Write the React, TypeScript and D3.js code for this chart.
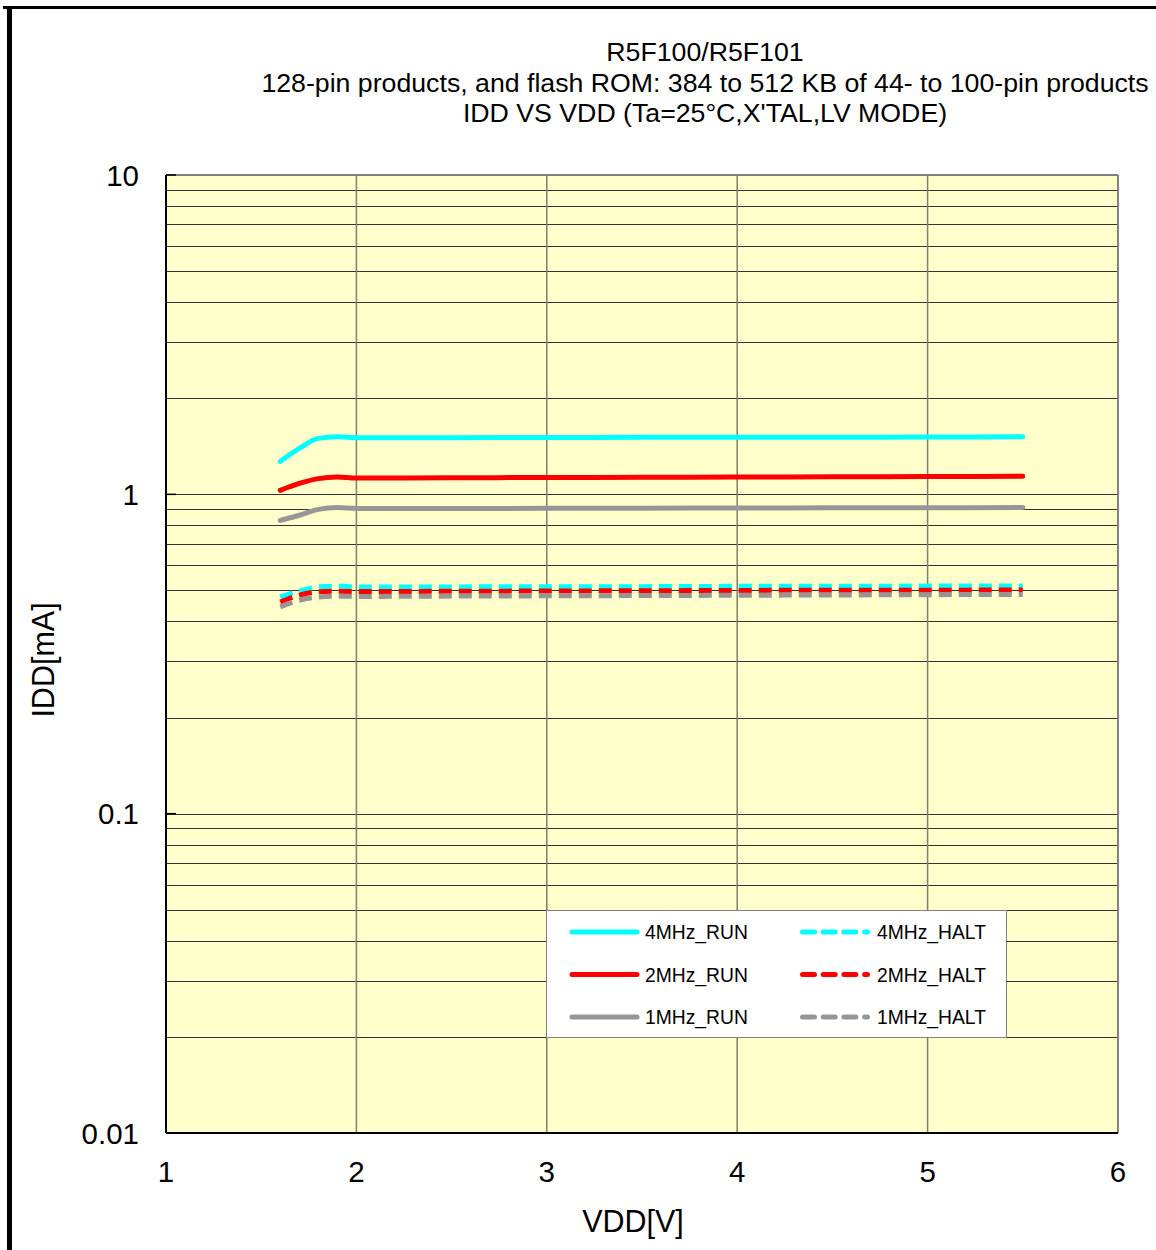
import React from "react";
import * as d3 from "d3";

const vdd = [1.6, 1.7, 1.8, 1.9, 2.0, 2.5, 3.0, 3.5, 4.0, 4.5, 5.0, 5.5];
const run4 = [1.268, 1.393, 1.497, 1.515, 1.505, 1.505, 1.507, 1.508, 1.509, 1.510, 1.511, 1.514];
const run2 = [1.029, 1.082, 1.12, 1.133, 1.124, 1.127, 1.129, 1.131, 1.133, 1.135, 1.137, 1.139];
const run1 = [0.829, 0.86, 0.897, 0.909, 0.903, 0.903, 0.904, 0.905, 0.906, 0.907, 0.908, 0.909];
const halt4 = [0.477, 0.498, 0.513, 0.516, 0.513, 0.513, 0.514, 0.514, 0.515, 0.515, 0.516, 0.516];
const halt2 = [0.46, 0.483, 0.495, 0.497, 0.496, 0.497, 0.498, 0.499, 0.5, 0.501, 0.501, 0.502];
const halt1 = [0.444, 0.466, 0.477, 0.48, 0.479, 0.48, 0.481, 0.482, 0.483, 0.484, 0.485, 0.486];

const xTicks = [1, 2, 3, 4, 5, 6];
const yTicks = [0.01, 0.1, 1, 10];
const yTickLabels = ["0.01", "0.1", "1", "10"];
const titleLines = [
  "R5F100/R5F101",
  "128-pin products, and flash ROM: 384 to 512 KB of 44- to 100-pin products",
  "IDD VS VDD (Ta=25°C,X'TAL,LV MODE)",
];

const series = [
  { name: "4MHz_RUN", values: run4, color: "#00FFFF", dashed: false },
  { name: "2MHz_RUN", values: run2, color: "#FF0000", dashed: false },
  { name: "1MHz_RUN", values: run1, color: "#969696", dashed: false },
  { name: "4MHz_HALT", values: halt4, color: "#00FFFF", dashed: true },
  { name: "2MHz_HALT", values: halt2, color: "#FF0000", dashed: true },
  { name: "1MHz_HALT", values: halt1, color: "#969696", dashed: true },
];

const font = "'Liberation Sans', Arial, sans-serif";

export default function App() {
  const W = 1156, H = 1250;
  const left = 166, right = 1118, top = 175, bottom = 1133;
  const x = d3.scaleLinear().domain([1, 6]).range([left, right]);
  const y = d3.scaleLog().domain([0.01, 10]).range([bottom, top]);

  const minor: number[] = [];
  [0.01, 0.1, 1].forEach((d) => {
    for (let k = 2; k <= 9; k++) minor.push(d * k);
  });
  minor.push(0.1, 1);

  const line = d3
    .line<[number, number]>()
    .x((d) => x(d[0]))
    .y((d) => y(d[1]))
    .curve(d3.curveMonotoneX);

  const legendRows = [0, 1, 2];

  return (
    <svg width={W} height={H} style={{ position: "absolute", left: 0, top: 0 }} fontFamily={font}>
      <rect x={0} y={0} width={W} height={H} fill="#fff" />
      {/* outer frame */}
      <line x1={3} y1={7.5} x2={W} y2={7.5} stroke="#000" strokeWidth={3} />
      <line x1={9.5} y1={6} x2={9.5} y2={H} stroke="#000" strokeWidth={5} />

      {/* title */}
      {titleLines.map((t, i) => (
        <text key={i} x={705} y={61 + i * 30.5} fontSize={26.7} textAnchor="middle" fill="#000">
          {t}
        </text>
      ))}

      {/* plot background */}
      <rect x={left} y={top} width={right - left} height={bottom - top} fill="#FFFFCC" />

      {/* horizontal grid */}
      {minor.map((v, i) => (
        <line key={"h" + i} x1={left} x2={right} y1={Math.round(y(v)) + 0.5} y2={Math.round(y(v)) + 0.5} stroke="#333" strokeWidth={1} />
      ))}
      {/* vertical grid */}
      {xTicks.slice(1, -1).map((v) => (
        <line key={"v" + v} x1={x(v)} x2={x(v)} y1={top} y2={bottom} stroke="#7f7f6a" strokeWidth={1.5} />
      ))}

      {/* border */}
      <line x1={left} x2={right} y1={top} y2={top} stroke="#808080" strokeWidth={2} />
      <line x1={right} x2={right} y1={top} y2={bottom} stroke="#808080" strokeWidth={2} />
      <line x1={left} x2={left} y1={top} y2={bottom} stroke="#000" strokeWidth={2} />
      <line x1={left} x2={right} y1={bottom} y2={bottom} stroke="#000" strokeWidth={2} />
      {yTicks.slice(1).map((v) => (
        <line key={"t" + v} x1={left} x2={left + 10} y1={y(v)} y2={y(v)} stroke="#000" strokeWidth={1.5} />
      ))}

      {/* series */}
      {series.map((s) => (
        <path
          key={s.name}
          d={line(vdd.map((v, i) => [v, s.values[i]] as [number, number])) || ""}
          fill="none"
          stroke={s.color}
          strokeWidth={5}
          strokeLinecap={s.dashed ? "butt" : "round"}
          strokeDasharray={s.dashed ? "13,7" : undefined}
        />
      ))}

      {/* axis labels */}
      {yTicks.map((v, i) => (
        <text key={"yl" + v} x={139} y={y(v) + 10.5} fontSize={29.5} textAnchor="end" fill="#000">
          {yTickLabels[i]}
        </text>
      ))}
      {xTicks.map((v) => (
        <text key={"xl" + v} x={x(v)} y={1182} fontSize={29.5} textAnchor="middle" fill="#000">
          {v}
        </text>
      ))}
      <text x={633} y={1232} fontSize={30.5} textAnchor="middle" fill="#000">VDD[V]</text>
      <text transform={`translate(54,660) rotate(-90)`} fontSize={30.5} textAnchor="middle" fill="#000">IDD[mA]</text>

      {/* legend */}
      <rect x={546.5} y={910.5} width={460} height={127} fill="#fff" stroke="#808080" strokeWidth={1} />
      {series.map((s, i) => {
        const col = s.dashed ? 1 : 0;
        const row = legendRows[i % 3];
        const lx = col === 0 ? 572 : 802.5;
        const ly = 932 + row * 42.5;
        return (
          <g key={"lg" + s.name}>
            <line
              x1={lx}
              x2={lx + 65}
              y1={ly}
              y2={ly}
              stroke={s.color}
              strokeWidth={5}
              strokeLinecap="round"
              strokeDasharray={s.dashed ? "12,8.7" : undefined}
            />
            <text x={col === 0 ? 645 : 877} y={ly + 7} fontSize={19.3} fill="#000">
              {s.name}
            </text>
          </g>
        );
      })}
    </svg>
  );
}
